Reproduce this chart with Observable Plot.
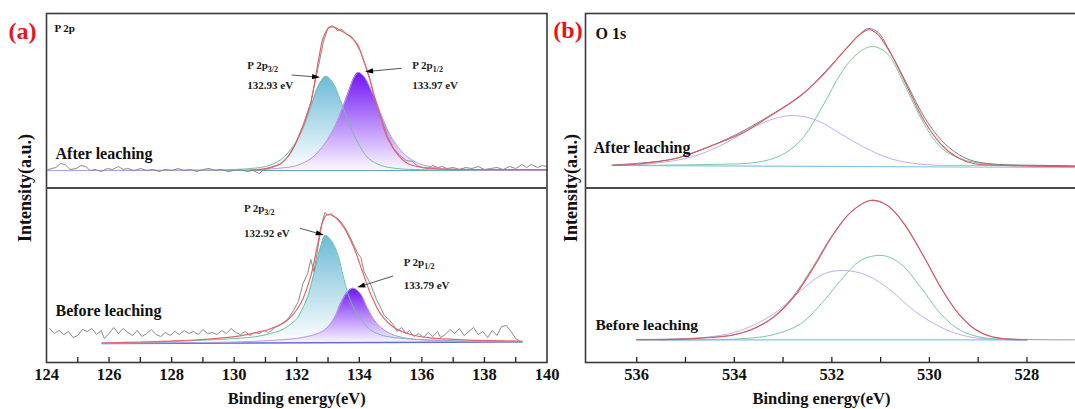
<!DOCTYPE html>
<html><head><meta charset="utf-8">
<script src="https://cdn.jsdelivr.net/npm/d3@7"></script>
<script src="https://cdn.jsdelivr.net/npm/@observablehq/plot@0.6"></script>
<style>
html,body{margin:0;padding:0;background:#fff;overflow:hidden;width:1075px;height:409px}
#wrap{position:relative;width:1075px;height:409px;overflow:hidden}
#pa{position:absolute;left:0;top:0;width:560px}
#pb{position:absolute;left:540px;top:0;width:555px}
#pa svg,#pb svg{max-width:none !important}
svg text{font-family:"Liberation Serif","Times New Roman",serif}
</style></head><body><div id="wrap"><div id="pa"></div><div id="pb"></div></div>
<script>
// ---------- tick labels ----------
const p2pTicks = [124,126,128,130,132,134,136,138,140];
const p2pInnerTicks = [125,126,127,128,129,130,131,132,133,134,135,136,137,138,139];
const o1sTicks = [536,534,532,530,528];
const o1sInnerTicks = [536,535,534,533,532,531,530,529,528];

// ---------- P 2p, after leaching: [binding energy, intensity] ----------
const p2pAfterRaw = [[124.05,1],[124.3,3],[124.45,7],[124.6,6],[124.75,1],[124.95,2],[125.1,5],[125.25,4],[125.4,0],[125.55,1],[125.75,-1],[125.95,2],[126.1,1],[126.3,4],[126.45,1],[126.6,2],[126.8,0],[127.0,2],[127.2,0],[127.4,1],[127.6,-1],[127.8,1],[128.0,0],[128.2,2],[128.4,0],[128.6,1],[128.8,-1],[129.0,1],[129.2,2],[129.4,0],[129.6,1],[129.8,-1],[130.0,0],[130.2,1],[130.4,-1],[130.6,0],[130.8,-3],[130.95,1],[131.2,3],[131.45,6],[131.7,13],[131.95,26],[132.2,45],[132.45,68],[132.65,98],[132.85,128],[133.0,143],[133.15,145],[133.3,140],[133.45,141],[133.6,136],[133.75,134],[133.9,127],[134.05,118],[134.2,104],[134.35,90],[134.5,72],[134.7,52],[134.9,34],[135.1,22],[135.3,15],[135.5,10],[135.7,9],[135.85,5],[136.0,3],[136.2,2],[136.35,5],[136.5,3],[136.65,4],[136.8,2],[137.0,3],[137.2,1],[137.4,3],[137.6,2],[137.8,4],[138.0,1],[138.2,2],[138.4,3],[138.6,1],[138.8,4],[139.0,2],[139.2,6],[139.35,3],[139.5,6],[139.7,3],[139.85,5],[140.0,4]];
const p2pAfterEnvelope = [[130.5,0.5],[130.95,1.7],[131.48,6.7],[131.75,15],[132.01,30],[132.23,46.7],[132.44,66.7],[132.6,93.3],[132.71,113],[132.85,133],[133.03,142.7],[133.19,143.3],[133.4,140],[133.67,135],[133.93,126.7],[134.14,110],[134.27,98.3],[134.46,76.7],[134.68,53.3],[134.89,33.3],[135.21,16.7],[135.53,7.3],[135.96,3.3],[136.49,1.7],[137.5,1],[140,0.8]];
const p2pAfter32 = [[124.05,0],[128,0.3],[130,1],[130.5,2],[131.0,4],[131.5,11],[131.9,25],[132.2,42],[132.45,64],[132.7,85],[132.93,94],[133.15,88],[133.4,70],[133.7,45],[134.0,25],[134.3,12],[134.7,5],[135.2,2],[136,0.8],[138,0.3],[140,0]];
const p2pAfter12 = [[124.05,0],[130,0.4],[131,1.2],[131.5,2.5],[132.0,5],[132.5,13],[132.9,27],[133.25,46],[133.6,74],[133.85,94],[133.97,98],[134.15,94],[134.45,76],[134.75,52],[135.05,32],[135.45,16],[135.9,7],[136.5,2.5],[137.2,0.8],[140,0]];
const p2pAfterBase = [[124.05,0],[140,0]];

// ---------- P 2p, before leaching ----------
const p2pBeforeRaw = [[124.1,15],[124.25,10],[124.4,13],[124.55,9],[124.7,12],[124.85,6],[125.0,8],[125.15,14],[125.3,12],[125.45,15],[125.6,9],[125.75,13],[125.85,5],[126.0,10],[126.15,16],[126.3,10],[126.45,15],[126.6,11],[126.75,8],[126.9,13],[127.05,7],[127.2,10],[127.35,14],[127.5,9],[127.65,7],[127.8,11],[127.95,8],[128.1,12],[128.25,9],[128.4,13],[128.55,10],[128.7,12],[128.85,9],[129.0,14],[129.15,10],[129.3,11],[129.45,9],[129.6,13],[129.75,10],[129.9,15],[130.05,11],[130.2,9],[130.35,12],[130.5,8],[130.65,11],[130.8,10],[130.95,13],[131.1,11],[131.3,16],[131.5,19],[131.7,24],[131.9,33],[132.05,42],[132.2,60],[132.35,70],[132.45,84],[132.55,72],[132.7,100],[132.8,120],[132.9,131],[133.0,128],[133.1,130],[133.2,127],[133.35,124],[133.5,118],[133.65,110],[133.8,100],[133.95,90],[134.05,86],[134.15,72],[134.25,66],[134.35,60],[134.45,52],[134.55,44],[134.65,38],[134.8,28],[134.95,24],[135.1,18],[135.2,12],[135.35,16],[135.5,10],[135.6,13],[135.75,7],[135.9,10],[136.05,6],[136.2,11],[136.35,7],[136.5,12],[136.6,6],[136.75,9],[136.9,14],[137.05,10],[137.2,15],[137.35,8],[137.5,12],[137.65,16],[137.8,9],[137.95,12],[138.1,6],[138.25,13],[138.4,8],[138.55,17],[138.7,18],[138.85,12],[139.0,5],[139.1,3]];
const p2pBeforeEnvelope = [[125.78,0.5],[127,1.5],[128,2.5],[129,4],[129.88,6.3],[130.52,9.7],[131.16,14.7],[131.69,23],[132.12,39.7],[132.44,66.3],[132.65,96.3],[132.81,119.7],[132.97,129],[133.19,127],[133.5,116.3],[133.82,96.3],[134.09,73],[134.36,49.7],[134.68,29.7],[135.1,16.3],[135.64,9],[136.28,5.7],[137.34,3.7],[138.3,2.8],[139.2,2.3]];
const p2pBefore32 = [[125.78,0.3],[127,1],[128,2],[129,3.3],[130.2,5.3],[130.73,7],[131.16,10],[131.48,13],[131.75,18],[132.01,25],[132.2,36],[132.33,45],[132.55,70],[132.75,95],[132.92,108],[133.1,103],[133.29,91],[133.45,72],[133.56,58],[133.7,44],[133.93,29.7],[134.15,20],[134.36,13.5],[134.7,8.5],[135.0,6.5],[135.6,4.5],[136.28,3.5],[137.3,2.5],[138.3,2],[139.2,1.5]];
const p2pBefore12 = [[125.78,0.3],[129,1],[130,1.5],[131.16,3],[132.23,6.3],[132.87,13],[133.19,24.7],[133.4,39.7],[133.6,50.5],[133.8,55.3],[134.04,49.7],[134.25,36.3],[134.57,19.7],[135.0,9.7],[135.64,4.7],[136.49,3],[137.5,2],[139.2,1.5]];
const p2pBeforeBase = [[125.78,0],[139.2,1.5]];

// ---------- O 1s, after leaching ----------
const o1sAfterRaw = [[536.5,0.5],[535.9,2.5],[535.2,7],[534.5,19],[533.9,32.5],[533.2,52],[532.6,71],[532.2,90.5],[531.7,117],[531.4,132.5],[531.25,137],[531.05,133],[530.8,113],[530.45,80.5],[530.1,48],[529.75,25],[529.4,11],[529.1,4.5],[528.7,1.5],[528.2,0.5],[527.5,0],[527,-0.5]];
const o1sAfterEnvelope = [[536.5,0],[535.92,1.7],[535.24,6.7],[534.55,18.3],[533.87,31.7],[533.19,51.7],[532.64,70],[532.16,91.7],[531.68,118.3],[531.41,131.7],[531.24,135.7],[531.07,131.7],[530.79,111.7],[530.45,78.3],[530.11,45],[529.77,21.7],[529.43,8.3],[529.08,1.7],[528.4,0],[527.5,-1],[527,-1]];
const o1sAfterA = [[536.5,0],[534.55,1],[533.53,3.3],[533.05,10],[532.64,25],[532.16,61.7],[531.82,91.7],[531.48,111.7],[531.17,119],[530.86,111.7],[530.52,81.7],[530.11,41.7],[529.77,18.3],[529.36,6.7],[528.74,1],[527.72,0],[527,-0.5]];
const o1sAfterB = [[536.5,0],[535.92,1],[534.89,8.3],[534.21,21.7],[533.53,40],[533.19,46.7],[532.78,50],[532.3,45],[531.82,31.7],[531.34,18.3],[530.79,6.7],[530.11,1],[529.0,0],[527,-1]];
const o1sAfterBase = [[536.5,0],[527,-2]];

// ---------- O 1s, before leaching ----------
const o1sBeforeRaw = [[536,0.5],[535.5,0.5],[535,1],[534.5,2.5],[534,5],[533.6,11.5],[533.2,23],[532.8,43],[532.4,72],[532,104],[531.6,128],[531.2,139.5],[530.85,134],[530.5,115],[530.1,82],[529.75,51],[529.4,26],[529.05,10],[528.7,3],[528.4,1],[528,0.3],[527.5,0],[527,0]];
const o1sBeforeEnvelope = [[536,0],[535.03,0.7],[534.55,2],[534.08,4.3],[533.6,11],[533.19,22.7],[532.78,42.7],[532.37,72.7],[531.96,106],[531.61,127.7],[531.2,139.3],[530.86,134.3],[530.52,116],[530.11,82.7],[529.77,52.7],[529.43,27.7],[529.08,11],[528.74,3.3],[528.4,0.7],[528,0]];
const o1sBeforeA = [[536,0],[533.87,1],[533.19,5.3],[532.64,16],[532.16,39.3],[531.82,59.3],[531.41,79.3],[530.96,84.3],[530.59,76],[530.18,52.7],[529.77,26],[529.36,9.3],[528.88,2],[528,0]];
const o1sBeforeB = [[536,0],[534.55,2.7],[533.87,9.3],[533.19,26],[532.64,49.3],[532.16,66],[531.75,69.3],[531.27,64.3],[530.79,49.3],[530.32,29.3],[529.77,12.7],[529.22,3.3],[528.4,0],[528,0]];
const o1sBeforeBase = [[536,0],[528,0]];

// ---------- annotations: [energy, intensity, text] ----------
const p2pAfterLabels = [[130.42,105.5,"P 2p3/2"],[130.42,85,"132.93 eV"],[135.69,105.5,"P 2p1/2"],[135.69,85,"133.97 eV"]];
const p2pBeforeLabels = [[130.31,134.7,"P 2p3/2"],[130.31,109.7,"132.92 eV"],[135.42,81.3,"P 2p1/2"],[135.42,58,"133.79 eV"]];
// arrows: [from energy, from intensity, to energy, to intensity]
const p2pAfterArrows = [[131.85,95,132.76,92.7],[135.37,101.7,134.2,98.3]];
const p2pBeforeArrows = [[132.12,114.7,132.88,108],[135.1,67,133.95,55.7]];

// ---------- layout constants (offsets of the stacked spectra, in intensity units) ----------
const A_UP = 192, A_LO = 19, B_UP = 197, B_LO = 22.7, DIVIDER = 174.5;

const rows = (pairs, off) => pairs.map(([e, h]) => ({e, v: h + off}));
const FONT = "Liberation Serif, Times New Roman, serif";

function gradientDefs() {
  return () => {
    const defs = d3.create("svg:defs");
    const g1 = defs.append("linearGradient").attr("id", "gCyan").attr("x1", 0).attr("y1", 0).attr("x2", 0).attr("y2", 1);
    g1.append("stop").attr("offset", "0%").attr("stop-color", "#6cbad8");
    g1.append("stop").attr("offset", "100%").attr("stop-color", "#ffffff");
    const g2 = defs.append("linearGradient").attr("id", "gPurple").attr("x1", 0).attr("y1", 0).attr("x2", 0).attr("y2", 1);
    g2.append("stop").attr("offset", "0%").attr("stop-color", "#7012f6");
    g2.append("stop").attr("offset", "100%").attr("stop-color", "#fbf8ff");
    return defs.node();
  };
}

function arrowMark(arrows, off) {
  return (index, scales) => {
    const g = d3.create("svg:g");
    for (const a of arrows) {
      const x1 = scales.x(a[0]), y1 = scales.y(a[1] + off), x2 = scales.x(a[2]), y2 = scales.y(a[3] + off);
      const ang = Math.atan2(y2 - y1, x2 - x1);
      const L = 8, w = 2.6;
      const bx = x2 - L * Math.cos(ang), by = y2 - L * Math.sin(ang);
      g.append("line").attr("x1", x1).attr("y1", y1).attr("x2", bx).attr("y2", by)
        .attr("stroke", "#555").attr("stroke-width", 1);
      g.append("path").attr("d", `M${x2},${y2}L${bx + w * Math.sin(ang)},${by - w * Math.cos(ang)}L${bx - w * Math.sin(ang)},${by + w * Math.cos(ang)}Z`)
        .attr("fill", "#000");
    }
    return g.node();
  };
}

function labelMarks(labels, off) {
  return Plot.text(labels, {x: d => d[0], y: d => d[1] + off, text: d => d[2], textAnchor: "start",
    fontSize: 11, fontWeight: "bold", fill: "#222"});
}

function subscripts(svg) {
  d3.select(svg).selectAll("text").each(function () {
    const m = this.textContent.match(/^P 2p(\d\/\d)$/);
    if (m) {
      const t = d3.select(this);
      t.text("");
      t.append("tspan").text("P 2p");
      t.append("tspan").attr("font-size", 8).attr("dy", 3).text(m[1]);
    }
  });
}

const T = {fontWeight: "bold", fill: "#111", lineAnchor: "middle"};

// ---------- panel (a) ----------
const lineCurve = "catmull-rom";
const plotA = Plot.plot({
  width: 560, height: 409, marginLeft: 46, marginRight: 13.5, marginTop: 13, marginBottom: 47,
  x: {domain: [124, 140]},
  y: {domain: [0, 349], axis: null},
  style: {fontFamily: FONT, background: "transparent", overflow: "visible"},
  marks: [
    gradientDefs(),
    // after leaching
    Plot.areaY(rows(p2pAfter32, A_UP), {x: "e", y1: A_UP, y2: "v", fill: "url(#gCyan)", curve: lineCurve}),
    Plot.areaY(rows(p2pAfter12, A_UP), {x: "e", y1: A_UP, y2: "v", fill: "url(#gPurple)", curve: lineCurve}),
    Plot.line(rows(p2pAfterBase, A_UP), {x: "e", y: "v", stroke: "#5fa9b8", strokeWidth: 1.2}),
    Plot.line(rows(p2pAfter32, A_UP), {x: "e", y: "v", stroke: "#6cc49a", strokeWidth: 1, curve: lineCurve}),
    Plot.line(rows(p2pAfter12, A_UP), {x: "e", y: "v", stroke: "#b99be2", strokeWidth: 1, curve: lineCurve}),
    Plot.line(rows(p2pAfterRaw, A_UP), {x: "e", y: "v", stroke: "#8a8a8a", strokeWidth: 1}),
    Plot.line(rows(p2pAfterEnvelope, A_UP), {x: "e", y: "v", stroke: "#e2646c", strokeWidth: 1.2, curve: lineCurve}),
    // before leaching
    Plot.areaY(rows(p2pBefore32, A_LO), {x: "e", y1: A_LO, y2: "v", fill: "url(#gCyan)", curve: lineCurve}),
    Plot.areaY(rows(p2pBefore12, A_LO), {x: "e", y1: A_LO, y2: "v", fill: "url(#gPurple)", curve: lineCurve}),
    Plot.line(rows(p2pBeforeBase, A_LO), {x: "e", y: "v", stroke: "#5f6fd6", strokeWidth: 1.4}),
    Plot.line(rows(p2pBefore32, A_LO), {x: "e", y: "v", stroke: "#6cc49a", strokeWidth: 1, curve: lineCurve}),
    Plot.line(rows(p2pBefore12, A_LO), {x: "e", y: "v", stroke: "#b99be2", strokeWidth: 1, curve: lineCurve}),
    Plot.line(rows(p2pBeforeRaw, A_LO), {x: "e", y: "v", stroke: "#8a8a8a", strokeWidth: 1}),
    Plot.line(rows(p2pBeforeEnvelope, A_LO), {x: "e", y: "v", stroke: "#e2646c", strokeWidth: 1.2, curve: lineCurve}),
    // annotations
    labelMarks(p2pAfterLabels, A_UP),
    labelMarks(p2pBeforeLabels, A_LO),
    arrowMark(p2pAfterArrows, A_UP),
    arrowMark(p2pBeforeArrows, A_LO),
    // frame & ticks
    Plot.frame({stroke: "#3a3a3a", strokeWidth: 1.6}),
    Plot.ruleY([DIVIDER], {stroke: "#4a4a4a", strokeWidth: 2.2}),
    Plot.ruleX(p2pInnerTicks, {x: d => d, y1: 0, y2: 5, stroke: "#222", strokeWidth: 1.3}),
    Plot.axisX(p2pTicks, {tickSize: 0, tickPadding: 6, fontSize: 16.5, fontWeight: "bold", fill: "#111", label: null}),
    Plot.text(["Binding energy(eV)"], {...T, frameAnchor: "bottom", dy: 36.5, fontSize: 16.5}),
    Plot.text(["Intensity(a.u.)"], {...T, frameAnchor: "left", dx: -21, rotate: -90, textAnchor: "middle", fontSize: 18}),
    Plot.text(["(a)"], {...T, frameAnchor: "top-left", dx: -24, dy: 18, textAnchor: "middle", fontSize: 24, fill: "#e3161c"}),
    Plot.text(["P 2p"], {...T, frameAnchor: "top-left", dx: 8, dy: 15, textAnchor: "start", fontSize: 11}),
    Plot.text(["After leaching"], {...T, frameAnchor: "top-left", dx: 9, dy: 140, textAnchor: "start", fontSize: 16}),
    Plot.text(["Before leaching"], {...T, frameAnchor: "top-left", dx: 9, dy: 297, textAnchor: "start", fontSize: 16})
  ]
});
subscripts(plotA);
document.getElementById("pa").append(plotA);

// ---------- panel (b) ----------
const plotB = Plot.plot({
  width: 555, height: 409, marginLeft: 45, marginRight: 10, marginTop: 13, marginBottom: 47,
  x: {domain: [537.05, 526.8]},
  y: {domain: [0, 349], axis: null},
  style: {fontFamily: FONT, background: "transparent", overflow: "visible", maxWidth: "none"},
  marks: [
    Plot.line(rows(o1sAfterBase, B_UP), {x: "e", y: "v", stroke: "#86c4e8", strokeWidth: 1.2}),
    Plot.line(rows(o1sAfterB, B_UP), {x: "e", y: "v", stroke: "#c7aaee", strokeWidth: 1, curve: lineCurve}),
    Plot.line(rows(o1sAfterA, B_UP), {x: "e", y: "v", stroke: "#78c8a0", strokeWidth: 1, curve: lineCurve}),
    Plot.line(rows(o1sAfterRaw, B_UP), {x: "e", y: "v", stroke: "#7a7a7a", strokeWidth: 1, curve: lineCurve}),
    Plot.line(rows(o1sAfterEnvelope, B_UP), {x: "e", y: "v", stroke: "#d65a68", strokeWidth: 1.1, curve: lineCurve}),
    Plot.line(rows(o1sBeforeBase, B_LO), {x: "e", y: "v", stroke: "#86c4e8", strokeWidth: 1.2}),
    Plot.line(rows(o1sBeforeB, B_LO), {x: "e", y: "v", stroke: "#c7aaee", strokeWidth: 1, curve: lineCurve}),
    Plot.line(rows(o1sBeforeA, B_LO), {x: "e", y: "v", stroke: "#78c8a0", strokeWidth: 1, curve: lineCurve}),
    Plot.line(rows(o1sBeforeRaw, B_LO), {x: "e", y: "v", stroke: "#9a9a9a", strokeWidth: 1, curve: lineCurve}),
    Plot.line(rows(o1sBeforeEnvelope, B_LO), {x: "e", y: "v", stroke: "#d65a68", strokeWidth: 1.1, curve: lineCurve}),
    Plot.frame({stroke: "#3a3a3a", strokeWidth: 1.6}),
    Plot.ruleY([DIVIDER], {stroke: "#4a4a4a", strokeWidth: 2.2}),
    Plot.ruleX(o1sInnerTicks, {x: d => d, y1: 0, y2: 5, stroke: "#222", strokeWidth: 1.3}),
    Plot.axisX(o1sTicks, {tickSize: 0, tickPadding: 6, fontSize: 16.5, fontWeight: "bold", fill: "#111", label: null}),
    Plot.text(["Binding energy(eV)"], {...T, frameAnchor: "bottom", dx: -14, dy: 36.5, fontSize: 16.5}),
    Plot.text(["Intensity(a.u.)"], {...T, frameAnchor: "left", dx: -14, rotate: -90, textAnchor: "middle", fontSize: 18}),
    Plot.text(["(b)"], {...T, frameAnchor: "top-left", dx: -17.5, dy: 17, textAnchor: "middle", fontSize: 24, fill: "#e3161c"}),
    Plot.text(["O 1s"], {...T, frameAnchor: "top-left", dx: 10, dy: 20, textAnchor: "start", fontSize: 16}),
    Plot.text(["After leaching"], {...T, frameAnchor: "top-left", dx: 8, dy: 134, textAnchor: "start", fontSize: 16}),
    Plot.text(["Before leaching"], {...T, frameAnchor: "top-left", dx: 10, dy: 312, textAnchor: "start", fontSize: 15.5})
  ]
});
document.getElementById("pb").append(plotB);
</script></body></html>
